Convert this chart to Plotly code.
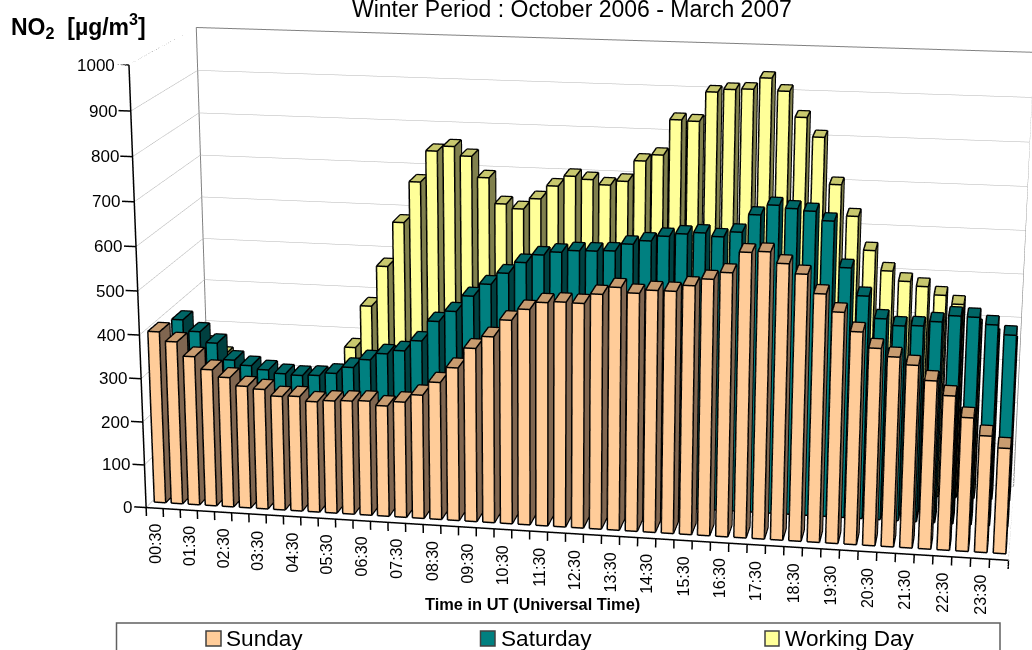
import numpy as np
import plotly.graph_objects as go

times = [f"{h:02d}:{m}" for h in range(24) for m in ("00","30")]
times = times[1:] + ["24:00"]
sunday = [398,377,345,317,301,283,278,264,266,256,260,262,264,255,266,284,315,350,396,424,463,489,506,509,508,530,547,536,544,544,558,574,590,636,639,615,594,553,515,474,440,423,407,375,344,298,260,235]
saturday = [379,353,328,290,279,271,264,262,264,271,287,307,323,332,357,404,429,466,495,522,548,567,575,580,581,583,600,609,621,628,632,625,637,677,700,694,690,670,568,507,458,444,446,457,472,471,456,435]
working_day = [270,245,215,190,180,175,170,170,190,281,382,478,583,679,752,764,743,695,636,626,651,682,706,700,689,699,747,762,843,841,908,915,917,943,915,858,815,710,640,564,519,497,487,469,450,398,378,363]
names = ["Sunday","Saturday","Working Day"]
front = ["#FFCC99","#008080","#FFFF99"]
side = ["#806650","#004040","#80804D"]
top = ["#C89C70","#006666","#C8C86E"]
row_start = [0.24,1.29,2.39]

# camera of the 3-D box (box spans x 0-48, y 0-3, z 0-1000)
eye = np.array([0.5218,-3.1774,0.8361])
center = np.array([-0.0764,-0.0278,-0.0475])
up = np.array([-0.0472,0.2615,0.9641])
asp = np.array([1.0,0.2598,0.5262])
lens = 2861.0
fovy = 2*np.arctan(325/lens)

X0,X1=0,48; Y0,Y1=0,3; Z0,Z1=0,1000
rx=[-0.7,48]; ry=[0,3]; rz=[-20,1000]
true_len=np.array([X1-X0,Y1-Y0,Z1-Z0],float)
pad_len=np.array([rx[1]-rx[0],ry[1]-ry[0],rz[1]-rz[0]],float)
shift=(np.array([sum(rx),sum(ry),sum(rz)])/2-np.array([X0+X1,Y0+Y1,Z0+Z1])/2)*asp/true_len
asp2=asp*pad_len/true_len
eye2=eye-shift; ctr2=center-shift

fig=go.Figure()
def bars(vals,k):
    xs,ys,zs,I,J,K,fc=[],[],[],[],[],[],[]
    ex,ey,ez=[],[],[]
    for n,v in enumerate(vals):
        a,b=n+.165,n+.835; c_,d=row_start[k],row_start[k]+.46
        base=len(xs)
        for z in (0,v):
            for (x,y) in ((a,c_),(b,c_),(b,d),(a,d)):
                xs.append(x);ys.append(y);zs.append(z)
        pts=[(xs[base+q],ys[base+q],zs[base+q]) for q in range(8)]
        for s,t_ in ((0,1),(1,2),(4,5),(5,6),(6,7),(7,4),(0,4),(1,5),(2,6),(3,7)):
            ex+=[pts[s][0],pts[t_][0],None];ey+=[pts[s][1],pts[t_][1],None];ez+=[pts[s][2],pts[t_][2],None]
        # faces sit a hair inside the edge lines
        for q in range(8):
            xs[base+q]+= .012 if q in (0,3,4,7) else -.012
            ys[base+q]+= .006 if q in (0,1,4,5) else -.006
            zs[base+q]+= 1.0 if q<4 else -1.0
        quads=[((0,1,5),(0,5,4),front[k]),((1,2,6),(1,6,5),side[k]),((4,5,6),(4,6,7),top[k]),((2,3,7),(2,7,6),side[k]),((3,0,4),(3,4,7),side[k])]
        for t1,t2,col in quads:
            for t in (t1,t2):
                I.append(base+t[0]);J.append(base+t[1]);K.append(base+t[2]);fc.append(col)
    fig.add_trace(go.Mesh3d(x=xs,y=ys,z=zs,i=I,j=J,k=K,facecolor=fc,flatshading=True,name=names[k],hoverinfo="skip",
        lighting=dict(ambient=1,diffuse=0,specular=0,fresnel=0),showlegend=False))
    fig.add_trace(go.Scatter3d(x=ex,y=ey,z=ez,mode="lines",line=dict(color="black",width=3),hoverinfo="skip",showlegend=False))
for k,vals in enumerate((sunday,saturday,working_day)):
    bars(vals,k)

def lines(segs,color,width):
    xs,ys,zs=[],[],[]
    for a,b in segs:
        xs+=[a[0],b[0],None];ys+=[a[1],b[1],None];zs+=[a[2],b[2],None]
    fig.add_trace(go.Scatter3d(x=xs,y=ys,z=zs,mode="lines",line=dict(color=color,width=width),hoverinfo="skip",showlegend=False))
zt=list(range(0,1001,100))
lines([((X0,Y0,z),(X0,Y1,z)) for z in zt[:-1]]+[((X0,Y1,z),(X1,Y1,z)) for z in zt[:-1]]+[((X1,Y0,0),(X1,Y1,0))],"#B4B4B4",1)
lines([((X0,Y0,1000),(X0,Y1,1000)),((X0,Y1,1000),(X1,Y1,1000)),((X0,Y1,1000),(X0,Y1,0)),((X1,Y1,1000),(X1,Y1,0))],"#808080",2)
lines([((X0,Y0,0),(X0,Y0,1000)),((X0,Y0,0),(X1,Y0,0))]+[((X0,Y0,z),(rx[0],Y0,z)) for z in zt]+[((i,Y0,0),(i,Y0,rz[0])) for i in range(49)],"black",3)

scene_ann=[dict(x=i+.5,y=0,z=0,text=times[i],textangle=-90,showarrow=False,xanchor="center",yanchor="top",yshift=-14,font=dict(size=16)) for i in range(0,48,2)]
scene_ann+=[dict(x=0,y=0,z=z,text=str(z),showarrow=False,xanchor="right",yanchor="middle",xshift=-12,font=dict(size=17)) for z in zt]

def px(xv,yv,xa="center"): return dict(xref="paper",yref="paper",x=xv/1032,y=1-yv/650,showarrow=False,xanchor=xa,yanchor="middle")
ann=[dict(**px(572,9),text="Winter Period : October 2006 - March 2007",font=dict(size=23)),
     dict(**px(78,26),text="<b>NO<sub>2</sub>  [µg/m<sup>3</sup>]</b>",font=dict(size=23)),
     dict(**px(532,604),text="<b>Time in UT (Universal Time)</b>",font=dict(size=16.4)),
     dict(**px(224,638,"left"),text="Sunday",font=dict(size=22.6)),
     dict(**px(498.5,638,"left"),text="Saturday",font=dict(size=22.6)),
     dict(**px(782.5,638,"left"),text="Working Day",font=dict(size=22.6))]
def rect(x0,y0,x1,y1,fill,line,w=1):
    return dict(type="rect",xref="paper",yref="paper",x0=x0/1032,x1=x1/1032,y0=1-y0/650,y1=1-y1/650,fillcolor=fill,line=dict(color=line,width=w),layer="above")
shapes=[rect(116.5,623,1000,651,"rgba(0,0,0,0)","#606060",1.5),
        rect(206,631,221,646,front[0],"#404040",1.5),rect(480.5,631,495,646,front[1],"#404040",1.5),rect(765,631,779,646,front[2],"#404040",1.5)]
fig.update_layout(width=1032,height=650,margin=dict(l=0,r=0,t=0,b=0),paper_bgcolor="white",showlegend=False,
  font=dict(family="Liberation Sans",color="black"),annotations=ann,shapes=shapes,
  scene=dict(domain=dict(x=[0,1],y=[0,1]),aspectmode="manual",aspectratio=dict(x=asp2[0],y=asp2[1],z=asp2[2]),annotations=scene_ann,
    camera=dict(eye=dict(x=eye2[0],y=eye2[1],z=eye2[2]),center=dict(x=ctr2[0],y=ctr2[1],z=ctr2[2]),up=dict(x=up[0],y=up[1],z=up[2]),projection=dict(type="perspective")),
    xaxis=dict(range=rx,visible=False),yaxis=dict(range=ry,visible=False),zaxis=dict(range=rz,visible=False)))
post="""
document.body.style.margin='0';
document.documentElement.style.overflow='hidden';
var gd=document.getElementById('{plot_id}');
var t=setInterval(function(){
  var s=gd._fullLayout&&gd._fullLayout.scene&&gd._fullLayout.scene._scene;
  if(s&&s.glplot){clearInterval(t);s.glplot.fovy=%f;s.glplot.redraw();}
},20);
""" % fovy
fig.write_html("out.html",config={"displayModeBar":False},post_script=post)
